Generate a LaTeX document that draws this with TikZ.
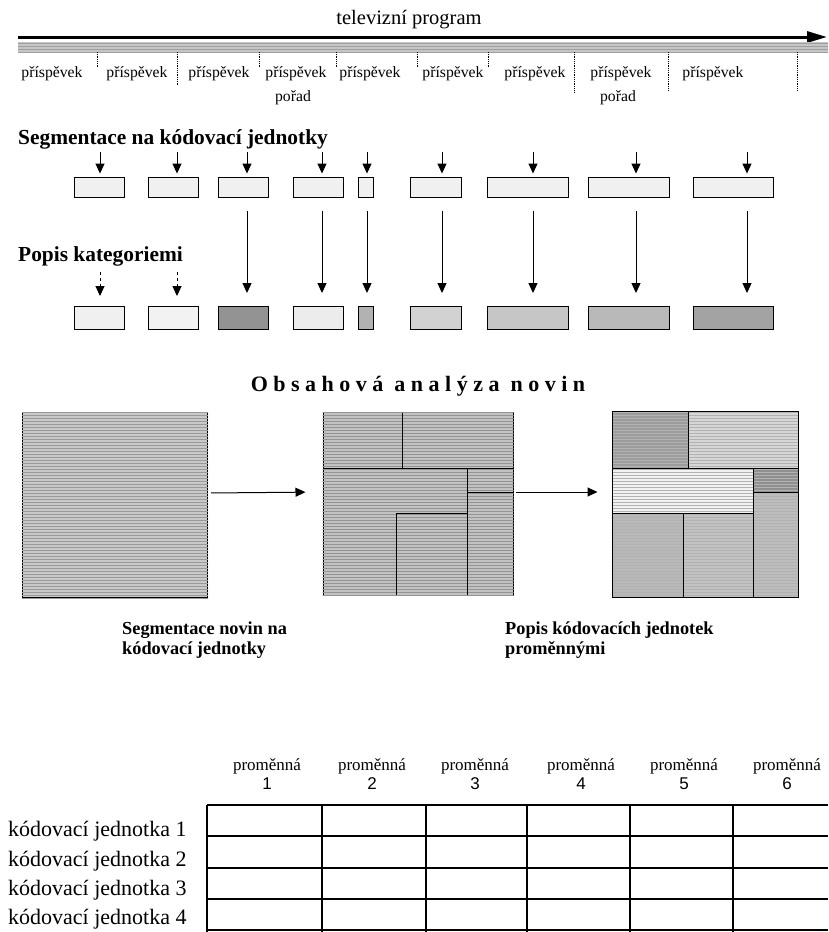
\documentclass[tikz,border=0pt]{standalone}
\usepackage{fontspec}
\setmainfont{Liberation Serif}
\newfontfamily\numfont{Liberation Sans}
\newfontfamily\spacedfont[LetterSpace=25]{Liberation Serif}
\usetikzlibrary{arrows.meta,patterns}

\begin{document}
\begin{tikzpicture}[x=1pt, y=-1pt,
    arr/.style={-{Triangle[width=9pt,length=10pt]}, line width=1pt},
    unitbox/.style={draw, line width=0.9pt, inner sep=0pt, minimum height=20pt, fill=gray!12},
    catbox/.style={unitbox, minimum height=23pt},
    part/.style={font=\fontsize{15.7}{18}\selectfont, inner sep=0pt, anchor=base},
    head/.style={font=\fontsize{21.4}{24}\selectfont\bfseries, anchor=base west, inner sep=0pt},
    capt/.style={font=\fontsize{18.3}{20}\selectfont\bfseries, align=left, anchor=base west, inner sep=0pt},
    varlbl/.style={font=\fontsize{17}{19}\selectfont, inner sep=0pt, anchor=base},
    varnum/.style={font=\fontsize{17}{19}\selectfont\numfont, inner sep=0pt, anchor=base},
    rowlbl/.style={font=\fontsize{22}{24}\selectfont, anchor=base west, inner sep=0pt},
    paper/.style={draw, line width=1pt, inner sep=0pt},
    cut/.style={line width=1pt},
    grid/.style={line width=1.2pt}]
  \useasboundingbox (0,0) rectangle (828,932);

  % --- television programme timeline ---
  \node[font=\fontsize{20.5}{22}\selectfont, anchor=base] (tv) at (409,24) {televizní program};
  \coordinate (tvstart) at (18,37);
  \coordinate (tvend) at (827,37);
  \draw[line width=3pt, -{Triangle[width=11pt,length=20pt]}] (tvstart) -- (tvend);
  \fill[gray!45] (18,42) rectangle (828,52);
  \fill[pattern=horizontal lines, pattern color=gray!75] (18,42) rectangle (828,52);
  % dividers between contributions
  \foreach \x/\len in {97/67, 177/86, 259/67, 336/67, 417/67, 488/67, 574/92, 668/90, 797/90}
    \draw[line width=0.8pt, densely dotted] (\x,52) -- (\x,\len);
  \foreach \i/\x in {1/52, 2/137, 3/219, 4/296, 5/370, 6/453, 7/535, 8/621, 9/713}
    \node[part] (contrib\i) at (\x,77) {příspěvek};
  \node[part] (show1) at (293,101) {pořad};
  \node[part] (show2) at (618,101) {pořad};

  % --- segmentation into coding units ---
  \node[head] (seghead) at (18,144) {Segmentace na kódovací jednotky};
  \node[head] (cathead) at (18,261) {Popis kategoriemi};
  \foreach \i/\x/\w/\ax/\tone in {1/99/50/100/12, 2/173/50/177/10, 3/243/50/247/85,
      4/318/50/322/15, 5/366/15/367/60, 6/436/51/442/35, 7/528/81/533/45,
      8/629/81/636/55, 9/733/80/747/72}
  {
    \node[unitbox, minimum width=\w pt] (seg\i) at (\x,187) {};
    \node[catbox, minimum width=\w pt, fill=gray!\tone] (cat\i) at (\x,318) {};
    \coordinate (drop\i) at (\ax,152);
    \draw[arr, shorten >=3pt] (drop\i) -- (drop\i |- seg\i.north);
  }
  \foreach \i in {3,...,9}
    \draw[arr, shorten <=14pt, shorten >=13pt] (drop\i |- seg\i.south) -- (drop\i |- cat\i.north);
  \coordinate (lift1) at (100,272);
  \coordinate (lift2) at (177,272);
  \foreach \i in {1,2}
    \draw[arr, dashed, shorten >=10pt] (lift\i) -- (lift\i |- cat\i.north);

  % --- newspaper content analysis ---
  \node[font=\fontsize{22}{24}\selectfont\spacedfont\bfseries, anchor=base] (paperhead) at (418,391) {Obsahová analýza novin};
  \node[paper, minimum width=185pt, minimum height=185pt, fill=gray!42] (paper1) at (115,505) {};
  \fill[pattern=horizontal lines, pattern color=gray!80] (paper1.south west) rectangle (paper1.north east);
  \node[paper, minimum width=190pt, minimum height=183pt, fill=gray!48] (paper2) at (418,504) {};
  \fill[pattern=horizontal lines, pattern color=gray!85] (paper2.south west) rectangle (paper2.north east);
  \draw[cut] (323,468) -- (513,468);
  \draw[cut] (402,413) -- (402,468);
  \draw[cut] (467,468) -- (467,595);
  \draw[cut] (467,492) -- (513,492);
  \draw[cut] (396,513) -- (467,513);
  \draw[cut] (396,513) -- (396,595);
  % coded units
  \fill[gray!78] (612,411) rectangle (688,468);
  \fill[gray!32] (688,411) rectangle (798,468);
  \fill[gray!10] (612,468) rectangle (753,513);
  \fill[gray!88] (753,468) rectangle (798,492);
  \fill[gray!52] (753,492) rectangle (798,597);
  \fill[gray!56] (612,513) rectangle (683,597);
  \fill[gray!48] (683,513) rectangle (753,597);
  \fill[pattern=horizontal lines, pattern color=gray!60] (612,411) rectangle (798,597);
  \node[paper, minimum width=186pt, minimum height=186pt] (paper3) at (705,504) {};
  \draw[cut] (612,468) -- (798,468);
  \draw[cut] (688,411) -- (688,468);
  \draw[cut] (753,468) -- (753,597);
  \draw[cut] (753,492) -- (798,492);
  \draw[cut] (612,513) -- (753,513);
  \draw[cut] (683,513) -- (683,597);
  \draw[arr, shorten <=3pt, shorten >=17pt] ([yshift=12pt]paper1.east) -- ([yshift=12pt]paper2.west);
  \draw[arr, shorten <=2pt, shorten >=14pt] ([yshift=12pt]paper2.east) -- ([yshift=12pt]paper3.west);
  \node[capt] (segcapt) at (122,654) {Segmentace novin na\\kódovací jednotky};
  \node[capt] (desccapt) at (505,654) {Popis kódovacích jednotek\\proměnnými};

  % --- data matrix ---
  \foreach \y in {805,836,868,899,930}
    \draw[grid] (207,\y) -- (828,\y);
  \foreach \x in {207,322,426,527,630,733}
    \draw[grid] (\x,805) -- (\x,932);
  \foreach \i/\x in {1/267, 2/372, 3/475, 4/581, 5/684, 6/787}
  {
    \node[varlbl] (var\i) at (\x,770) {proměnná};
    \node[varnum] (num\i) at (\x,789) {\i};
  }
  \foreach \i/\y in {1/836, 2/866, 3/895, 4/924}
    \node[rowlbl] (unit\i) at (8,\y) {kódovací jednotka \i};
\end{tikzpicture}
\end{document}
